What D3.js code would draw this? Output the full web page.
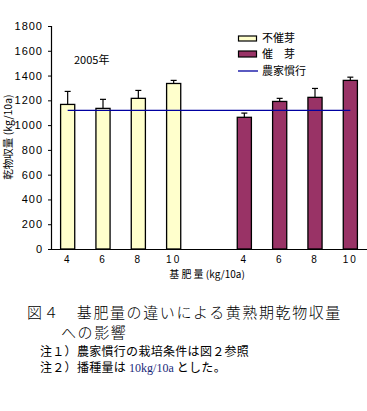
<!DOCTYPE html>
<html><head><meta charset="utf-8">
<script src="https://cdn.jsdelivr.net/npm/d3@7"></script>
<style>
body{margin:0;background:#fff;}
svg{display:block;}
text{font-family:"Noto Sans CJK JP","Liberation Sans",sans-serif;fill:#000;}
</style></head>
<body>
<svg id="c" width="367" height="411"></svg>
<script>
const categories = ["4","6","8","10","","4","6","8","10"];
const groups = ["不催芽","","","","","催　芽","","",""];
const fushugaValues = [1167, 1135, 1216, 1336];
const fushugaErrors = [105, 73, 64, 25];
const saigaValues = [1063, 1191, 1224, 1361];
const saigaErrors = [34, 25, 72, 26];
const conventional = 1119;
const yTicks = [0,200,400,600,800,1000,1200,1400,1600,1800];

const svg = d3.select("#c");
const x = d3.scaleBand().domain(d3.range(categories.length)).range([50, 368]).paddingInner(0.6).paddingOuter(0.3);
const y = d3.scaleLinear().domain([0,1800]).range([249,26]);

const bars = [];
fushugaValues.forEach((v,i)=>bars.push({slot:i, v, e:fushugaErrors[i], fill:"#FFFFCC"}));
saigaValues.forEach((v,i)=>bars.push({slot:i+5, v, e:saigaErrors[i], fill:"#993366"}));

// bars
svg.selectAll("rect.bar").data(bars).join("rect")
  .attr("x", d=>x(d.slot)).attr("width", x.bandwidth())
  .attr("y", d=>y(d.v)).attr("height", d=>y(0)-y(d.v))
  .attr("fill", d=>d.fill).attr("stroke","#000").attr("stroke-width",1.3);

// error bars
const eb = svg.selectAll("g.eb").data(bars).join("g");
eb.append("line")
  .attr("x1", d=>x(d.slot)+x.bandwidth()/2).attr("x2", d=>x(d.slot)+x.bandwidth()/2)
  .attr("y1", d=>y(d.v)).attr("y2", d=>y(d.v+d.e)).attr("stroke","#000").attr("stroke-width",1.2);
eb.append("line")
  .attr("x1", d=>x(d.slot)+x.bandwidth()/2-3).attr("x2", d=>x(d.slot)+x.bandwidth()/2+3)
  .attr("y1", d=>y(d.v+d.e)).attr("y2", d=>y(d.v+d.e)).attr("stroke","#000").attr("stroke-width",1.2);

// conventional line
svg.append("line")
  .attr("x1", x(0)+x.bandwidth()/2).attr("x2", x(8)+x.bandwidth()/2)
  .attr("y1", y(conventional)).attr("y2", y(conventional))
  .attr("stroke","#0000A0").attr("stroke-width",1.3);

// axes
const ya = svg.append("g").attr("transform","translate(51,0)")
  .call(d3.axisLeft(y).tickValues(yTicks).tickSize(3).tickPadding(5).tickFormat(d3.format("d")));
ya.select(".domain").attr("stroke","#000").attr("stroke-width",1.2);
ya.selectAll("text").style("font-family","'Liberation Sans',Arial,sans-serif").style("font-size","11px").style("letter-spacing","1px");

const xa = svg.append("g").attr("transform","translate(0,249)")
  .call(d3.axisBottom(x).tickSize(0).tickPadding(7).tickFormat(i=>categories[i]));
xa.select(".domain").attr("d","M51,0.5H367").attr("stroke","#000").attr("stroke-width",1.2);
xa.selectAll("text").style("font-family","'Liberation Sans',Arial,sans-serif").style("font-size","10px").style("letter-spacing","2px");

// axis titles
svg.append("text").attr("x",207).attr("y",278).attr("text-anchor","middle")
  .style("font-size","10px").text("基 肥 量 (kg/10a)");
svg.append("text").attr("transform","translate(12,137) rotate(-90)").attr("text-anchor","middle")
  .style("font-size","10.5px").text("乾物収量 (kg/10a)");

svg.append("text").attr("x",74).attr("y",64).style("font-size","11px").text("2005年");

// legend
const lg = svg.append("g");
lg.append("rect").attr("x",238.5).attr("y",36).attr("width",18).attr("height",5).attr("fill","#FFFFCC").attr("stroke","#000").attr("stroke-width",1.2);
lg.append("rect").attr("x",238.5).attr("y",51).attr("width",18).attr("height",6).attr("fill","#993366").attr("stroke","#000").attr("stroke-width",1.2);
lg.append("line").attr("x1",238).attr("x2",258).attr("y1",71).attr("y2",71).attr("stroke","#0000A0").attr("stroke-width",1.3);
lg.append("text").attr("x",262).attr("y",42).style("font-size","11px").text(groups[0]);
lg.append("text").attr("x",262).attr("y",58).style("font-size","11px").text(groups[5]);
lg.append("text").attr("x",262).attr("y",75).style("font-size","11px").text("農家慣行");

// caption
svg.append("text").attr("x",27).attr("y",318).style("font-size","15px").style("font-weight","300").style("letter-spacing","1.6px").text("図４　基肥量の違いによる黄熟期乾物収量");
svg.append("text").attr("x",61).attr("y",338).style("font-size","15px").style("font-weight","300").style("letter-spacing","1.6px").text("への影響");
svg.append("text").attr("x",40).attr("y",356).style("font-size","12px").style("letter-spacing","0.3px").text("注１）農家慣行の栽培条件は図２参照");
const n2 = svg.append("text").attr("x",40).attr("y",372).style("font-size","12px").style("letter-spacing","0.3px");
n2.append("tspan").text("注２）播種量は ");
n2.append("tspan").style("font-family","'Liberation Serif',serif").style("fill","#1a2a7a").style("letter-spacing","0").text("10kg/10a");
n2.append("tspan").text(" とした。");
</script>
</body></html>
